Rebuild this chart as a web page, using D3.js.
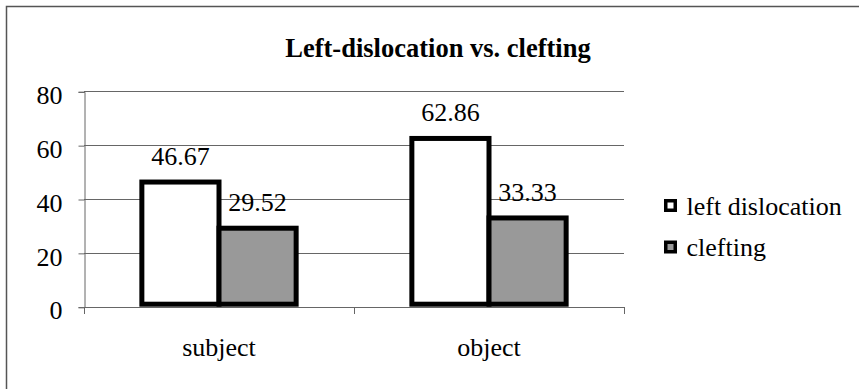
<!DOCTYPE html>
<html>
<head>
<meta charset="utf-8">
<script src="https://cdn.jsdelivr.net/npm/d3@7/dist/d3.min.js"></script>
<style>
  html, body { margin: 0; padding: 0; background: #fff; }
  svg { display: block; }
  svg text { font-family: "Liberation Serif", "Times New Roman", serif; }
</style>
</head>
<body>
<svg id="chart" width="859" height="389" font-family="Liberation Serif, serif"></svg>
<script>
// Chart data
const categories = ["subject", "object"];
const seriesNames = ["left dislocation", "clefting"];
const leftDislocation = [46.67, 62.86];
const clefting = [29.52, 33.33];
const yTicks = [0, 20, 40, 60, 80];
const title = "Left-dislocation vs. clefting";

const seriesValues = [leftDislocation, clefting];
const seriesFill = ["#ffffff", "#999999"];

const FONT = "Liberation Serif, serif";
const FS = 26;

const svg = d3.select("#chart");
const W = 859, H = 389;

// Chart frame (runs off the right and bottom edges)
svg.append("rect")
  .attr("x", 6.5).attr("y", 6.5)
  .attr("width", W + 20).attr("height", H + 20)
  .attr("fill", "#fff")
  .attr("stroke", "#555").attr("stroke-width", 1.5);

const plot = { left: 84, right: 624, top: 91.3, bottom: 306.7 };

const y = d3.scaleLinear().domain([0, 80]).range([plot.bottom, plot.top]);
const x0 = d3.scaleBand().domain(categories).range([plot.left, plot.right]).padding(0);
// gap width of 150% between groups
const bw = x0.bandwidth();
const barW = bw / 3.5;
const x1 = d3.scaleBand().domain(seriesNames)
  .range([(bw - 2 * barW) / 2, (bw + 2 * barW) / 2]).padding(0);

const gridColor = "#666";

// Horizontal gridlines
svg.append("g").selectAll("line")
  .data(yTicks.filter(t => t > 0))
  .join("line")
  .attr("x1", plot.left).attr("x2", plot.right)
  .attr("y1", d => Math.round(y(d)) + 0.5).attr("y2", d => Math.round(y(d)) + 0.5)
  .attr("stroke", gridColor).attr("stroke-width", 1);

// Y axis
const yAxis = d3.axisLeft(y).tickValues(yTicks).tickSize(6).tickPadding(16).tickFormat(d3.format("d"));
const gy = svg.append("g").attr("transform", `translate(${plot.left + 0.5},0.5)`).call(yAxis);
gy.attr("font-family", FONT).attr("font-size", FS);
gy.select(".domain").attr("stroke", gridColor);
gy.selectAll(".tick line").attr("stroke", gridColor);
gy.selectAll(".tick text").attr("dy", "0.45em").attr("fill", "#000");

// X axis (category boundaries as ticks)
const gx = svg.append("g").attr("font-family", FONT).attr("font-size", FS);
gx.append("line")
  .attr("x1", plot.left).attr("x2", plot.right)
  .attr("y1", Math.round(y(0)) + 0.5).attr("y2", Math.round(y(0)) + 0.5)
  .attr("stroke", gridColor);
const boundaries = categories.map(c => x0(c)).concat([x0(categories[categories.length - 1]) + bw]);
gx.selectAll("line.bt").data(boundaries).join("line").attr("class", "bt")
  .attr("x1", d => Math.round(d) + 0.5).attr("x2", d => Math.round(d) + 0.5)
  .attr("y1", Math.round(y(0))).attr("y2", Math.round(y(0)) + 7)
  .attr("stroke", gridColor);
gx.selectAll("text").data(categories).join("text")
  .attr("x", d => x0(d) + bw / 2)
  .attr("y", 356)
  .attr("text-anchor", "middle")
  .text(d => d);

// Bars
const bars = [];
categories.forEach((c, i) => {
  seriesNames.forEach((s, j) => {
    bars.push({ cat: c, series: s, si: j, value: seriesValues[j][i] });
  });
});

const gb = svg.append("g").attr("font-family", FONT).attr("font-size", FS);
gb.selectAll("rect").data(bars).join("rect")
  .attr("x", d => x0(d.cat) + x1(d.series))
  .attr("y", d => y(d.value) + 1)
  .attr("width", x1.bandwidth())
  .attr("height", d => y(0) - 2.5 - (y(d.value) + 1))
  .attr("fill", d => seriesFill[d.si])
  .attr("stroke", "#000").attr("stroke-width", 5);

// Value labels
gb.selectAll("text").data(bars).join("text")
  .attr("x", d => x0(d.cat) + x1(d.series) + x1.bandwidth() / 2)
  .attr("y", d => y(d.value) - 16)
  .attr("text-anchor", "middle")
  .text(d => d.value.toFixed(2));

// Title
svg.append("text")
  .attr("x", 438).attr("y", 57)
  .attr("text-anchor", "middle")
  .attr("font-family", FONT).attr("font-size", 26.5).attr("font-weight", "bold")
  .text(title);

// Legend
const legend = svg.append("g").attr("font-family", FONT).attr("font-size", FS);
const items = legend.selectAll("g").data(seriesNames).join("g")
  .attr("transform", (d, i) => `translate(664, ${199 + i * 41.5})`);
items.append("rect")
  .attr("x", 1.75).attr("y", 1.75).attr("width", 9.5).attr("height", 9.5)
  .attr("fill", (d, i) => seriesFill[i])
  .attr("stroke", "#000").attr("stroke-width", 3.5);
items.append("text")
  .attr("x", 22.5).attr("y", 15.5)
  .text(d => d);
</script>
</body>
</html>
